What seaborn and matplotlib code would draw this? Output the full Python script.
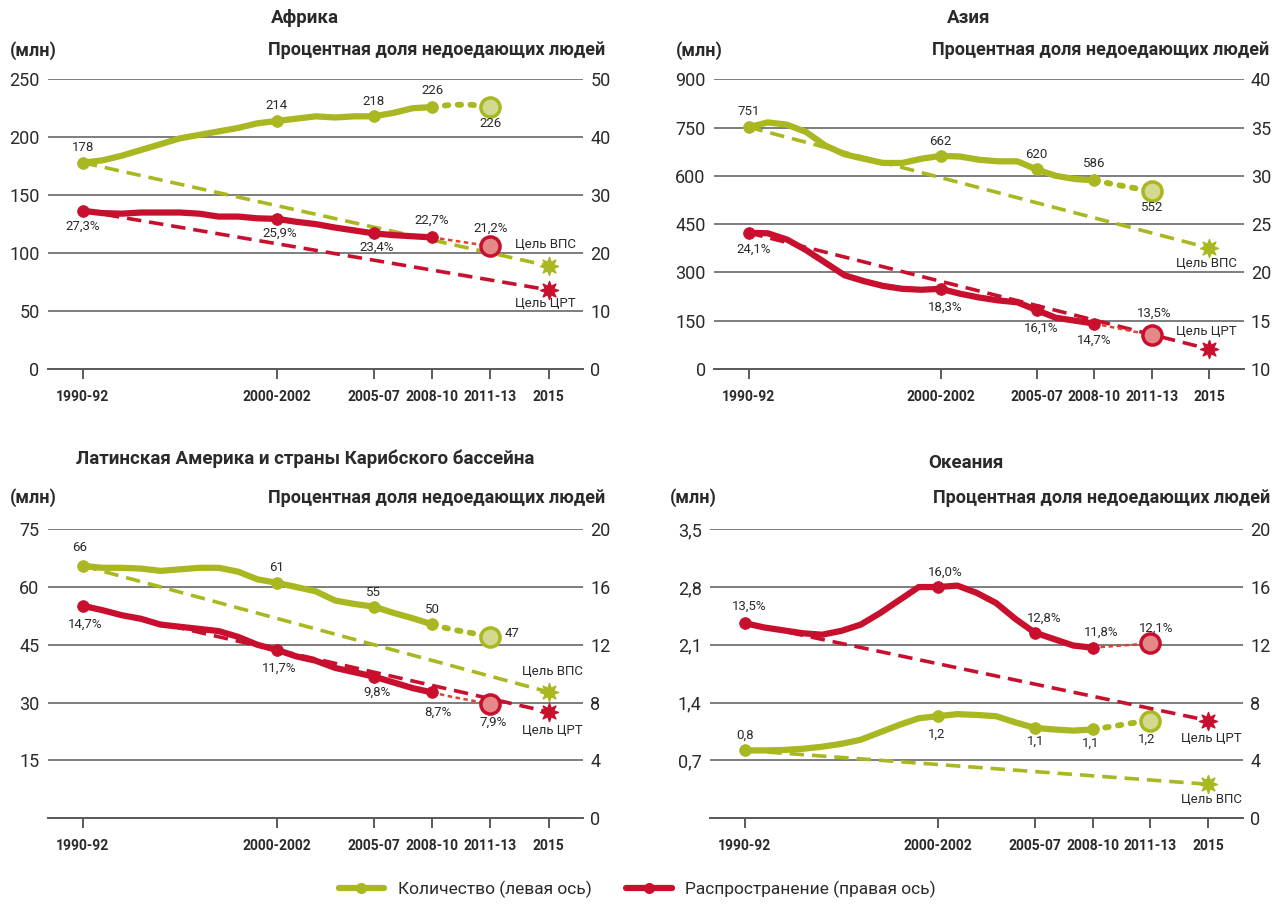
import seaborn as sns
import matplotlib.pyplot as plt
from matplotlib.lines import Line2D

# --- data -------------------------------------------------------------
years = list(range(1991, 2010))
proj_years = [2009, 2010, 2011, 2012]
key_years = [1991, 2001, 2006, 2009]
tick_years = [1991, 2001, 2006, 2009, 2012, 2015]
tick_labels = ['1990-92', '2000-2002', '2005-07', '2008-10', '2011-13', '2015']
goal_years = [1991, 2015]

africa_num = [178, 180, 184, 189, 194, 199, 202, 205, 208, 212, 214, 216, 218, 217, 218, 218, 221, 225, 226]
africa_num_proj = [226, 228, 228, 226]
africa_pct = [27.3, 26.9, 26.8, 27.0, 27.0, 27.0, 26.8, 26.3, 26.3, 26.0, 25.9, 25.4, 25.0, 24.4, 23.9, 23.4, 23.1, 22.9, 22.7]
africa_pct_proj = [22.7, 22.2, 21.7, 21.2]
africa_goal_num = [178, 89]
africa_goal_pct = [27.3, 13.65]
africa_num_lbl = ['178', '214', '218', '226', '226']
africa_pct_lbl = ['27,3%', '25,9%', '23,4%', '22,7%', '21,2%']

asia_num = [751, 766, 759, 736, 694, 667, 653, 640, 640, 653, 662, 660, 650, 645, 645, 620, 600, 590, 586]
asia_num_proj = [586, 574, 563, 552]
asia_pct = [24.1, 24.05, 23.4, 22.3, 21.0, 19.7, 19.1, 18.6, 18.3, 18.2, 18.3, 17.8, 17.4, 17.1, 16.9, 16.1, 15.3, 15.0, 14.7]
asia_pct_proj = [14.7, 14.3, 13.9, 13.5]
asia_goal_num = [751, 375.5]
asia_goal_pct = [24.1, 12.05]
asia_num_lbl = ['751', '662', '620', '586', '552']
asia_pct_lbl = ['24,1%', '18,3%', '16,1%', '14,7%', '13,5%']

latam_num = [65.5, 65.0, 65.0, 64.8, 64.2, 64.6, 65.0, 65.0, 64.0, 62.0, 61.1, 60.0, 58.9, 56.5, 55.6, 54.9, 53.3, 51.9, 50.3]
latam_num_proj = [50.3, 49.0, 48.1, 47.1]
latam_pct = [14.7, 14.4, 14.05, 13.8, 13.4, 13.25, 13.1, 12.95, 12.55, 12.0, 11.65, 11.2, 10.9, 10.4, 10.1, 9.8, 9.4, 9.0, 8.7]
latam_pct_proj = [8.7, 8.4, 8.15, 7.9]
latam_goal_num = [65.5, 32.75]
latam_goal_pct = [14.7, 7.35]
latam_num_lbl = ['66', '61', '55', '50', '47']
latam_pct_lbl = ['14,7%', '11,7%', '9,8%', '8,7%', '7,9%']

oceania_num = [0.82, 0.82, 0.825, 0.84, 0.865, 0.90, 0.95, 1.04, 1.13, 1.21, 1.235, 1.26, 1.25, 1.235, 1.16, 1.094, 1.074, 1.06, 1.074]
oceania_num_proj = [1.074, 1.11, 1.15, 1.18]
oceania_pct = [13.5, 13.2, 13.0, 12.8, 12.7, 12.97, 13.4, 14.2, 15.1, 16.0, 16.0, 16.1, 15.6, 14.9, 13.8, 12.85, 12.4, 11.95, 11.8]
oceania_pct_proj = [11.8, 11.9, 12.0, 12.1]
oceania_goal_num = [0.82, 0.41]
oceania_goal_pct = [13.5, 6.75]
oceania_num_lbl = ['0,8', '1,2', '1,1', '1,1', '1,2']
oceania_pct_lbl = ['13,5%', '16,0%', '12,8%', '11,8%', '12,1%']

GREEN = '#a9b720'
GREEN_PALE = '#d3d98e'
RED = '#c8102e'
RED_PALE = '#e48888'
RED_DOT = '#e0402c'
TXT = '#2a2a2a'

sns.set_style('white')
plt.rcParams['font.family'] = ['Roboto', 'DejaVu Sans']

fig = plt.figure(figsize=(12.75, 9.11), dpi=100)


def draw_panel(rect, title, title_y, hdr_y, hdr_left, hdr_right,
               num, num_proj, pct, pct_proj, goal_num, goal_pct,
               num_lbl, pct_lbl, num_off, pct_off,
               lim_l, ticks_l, labels_l, lim_r, ticks_r,
               vps_off, crt_off):
    ax = fig.add_axes(rect)
    ax2 = ax.twinx()

    # left axis: numbers (green)
    sns.lineplot(x=goal_years, y=goal_num, ax=ax, color=GREEN, linewidth=2.6,
                 linestyle=(0, (4, 2.2)), zorder=3)
    sns.lineplot(x=proj_years, y=num_proj, ax=ax, color=GREEN, linewidth=4.2,
                 linestyle=(0, (0.6, 1.6)), dash_capstyle='round', zorder=4)
    sns.lineplot(x=years, y=num, ax=ax, color=GREEN, linewidth=4.5,
                 solid_capstyle='round', solid_joinstyle='round', zorder=5)
    kv = [num[years.index(y)] for y in key_years]
    sns.scatterplot(x=key_years, y=kv, ax=ax, color=GREEN, s=70,
                    edgecolor=GREEN, zorder=6)
    ax.scatter([2012], [num_proj[-1]], s=190, color=GREEN_PALE,
               edgecolor=GREEN, linewidth=2.5, zorder=6)
    ax.scatter([2015], [goal_num[-1]], s=170, marker=(8, 1, 0),
               color=GREEN, zorder=6)

    # right axis: prevalence (red)
    sns.lineplot(x=goal_years, y=goal_pct, ax=ax2, color=RED, linewidth=2.6,
                 linestyle=(0, (4, 2.2)), zorder=3)
    sns.lineplot(x=proj_years, y=pct_proj, ax=ax2, color=RED_DOT, linewidth=1.8,
                 linestyle=(0, (1.8, 1.4)), zorder=4)
    sns.lineplot(x=years, y=pct, ax=ax2, color=RED, linewidth=4.5,
                 solid_capstyle='round', solid_joinstyle='round', zorder=5)
    kp = [pct[years.index(y)] for y in key_years]
    sns.scatterplot(x=key_years, y=kp, ax=ax2, color=RED, s=70,
                    edgecolor=RED, zorder=6)
    ax2.scatter([2012], [pct_proj[-1]], s=190, color=RED_PALE,
                edgecolor=RED, linewidth=2.5, zorder=6)
    ax2.scatter([2015], [goal_pct[-1]], s=170, marker=(8, 1, 0),
                color=RED, zorder=6)

    # value labels
    xs = key_years + [2012]
    for x, y, t, o in zip(xs, kv + [num_proj[-1]], num_lbl, num_off):
        ax.annotate(t, (x, y), xytext=o, textcoords='offset points',
                    ha='center', va='center', fontsize=9.5, color=TXT, zorder=7)
    for x, y, t, o in zip(xs, kp + [pct_proj[-1]], pct_lbl, pct_off):
        ax2.annotate(t, (x, y), xytext=o, textcoords='offset points',
                     ha='center', va='center', fontsize=9.5, color=TXT, zorder=7)
    ax.annotate('Цель ВПС', (2015, goal_num[-1]), xytext=vps_off,
                textcoords='offset points', ha='center', va='center',
                fontsize=9.5, color=TXT)
    ax2.annotate('Цель ЦРТ', (2015, goal_pct[-1]), xytext=crt_off,
                 textcoords='offset points', ha='center', va='center',
                 fontsize=9.5, color=TXT)

    # axes styling
    ax.set_xlim(1989.2, 2016.8)
    ax.set_ylim(*lim_l)
    ax2.set_ylim(*lim_r)
    ax.set_yticks(ticks_l)
    ax.set_yticklabels(labels_l)
    ax2.set_yticks(ticks_r)
    ax2.set_yticklabels([str(v) for v in ticks_r])
    ax.set_xticks(tick_years)
    ax.set_xticklabels(tick_labels, fontweight='bold', fontsize=10)
    ax.set_xlabel('')
    ax.set_ylabel('')
    ax2.set_ylabel('')
    ax.yaxis.grid(True, color='#5a5a5a', linewidth=1.1)
    ax.set_axisbelow(True)
    ax2.grid(False)
    for s in ['top', 'left', 'right']:
        ax.spines[s].set_visible(False)
    for s in ax2.spines.values():
        s.set_visible(False)
    ax.spines['bottom'].set_color('#5a5a5a')
    ax.spines['bottom'].set_linewidth(1.4)
    ax.tick_params(axis='y', length=0, labelsize=13, colors=TXT, pad=6)
    ax2.tick_params(axis='y', length=0, labelsize=13, colors=TXT, pad=5)
    ax.tick_params(axis='x', length=7, width=1.4, color='#5a5a5a',
                   labelcolor=TXT, pad=8, bottom=True)

    ax.text(0.48, title_y, title, transform=ax.transAxes, ha='center',
            va='center', fontsize=13.5, fontweight='bold', color=TXT)
    ax.text(hdr_left, hdr_y, '(млн)', transform=ax.transAxes, ha='left',
            va='center', fontsize=13, fontweight='bold', color=TXT)
    ax.text(hdr_right, hdr_y, 'Процентная доля недоедающих людей',
            transform=ax.transAxes, ha='right', va='center', fontsize=13,
            fontweight='bold', color=TXT)
    return ax


draw_panel([0.0376, 0.595, 0.42, 0.318], 'Африка', 1.21, 1.10, -0.072, 1.041,
           africa_num, africa_num_proj, africa_pct, africa_pct_proj,
           africa_goal_num, africa_goal_pct, africa_num_lbl, africa_pct_lbl,
           [(0, 11), (0, 11), (0, 11), (0, 12), (0, -12)],
           [(0, -11), (2, -10), (2, -10), (0, 12), (0, 13)],
           (0, 250), [0, 50, 100, 150, 200, 250],
           ['0', '50', '100', '150', '200', '250'],
           (0, 50), [0, 10, 20, 30, 40, 50],
           (-2, 15), (-2, -10))

draw_panel([0.56, 0.595, 0.4157, 0.318], 'Азия', 1.21, 1.10, -0.072, 1.047,
           asia_num, asia_num_proj, asia_pct, asia_pct_proj,
           asia_goal_num, asia_goal_pct, asia_num_lbl, asia_pct_lbl,
           [(0, 11), (0, 10), (0, 11), (0, 12), (0, -12)],
           [(4, -12), (3, -13), (3, -13), (0, -12), (2, 16)],
           (0, 900), [0, 150, 300, 450, 600, 750, 900],
           ['0', '150', '300', '450', '600', '750', '900'],
           (10, 40), [10, 15, 20, 25, 30, 35, 40],
           (-2, -11), (-2, 13))

draw_panel([0.0376, 0.102, 0.42, 0.317],
           'Латинская Америка и страны Карибского бассейна', 1.245, 1.11,
           -0.072, 1.041,
           latam_num, latam_num_proj, latam_pct, latam_pct_proj,
           latam_goal_num, latam_goal_pct, latam_num_lbl, latam_pct_lbl,
           [(-2, 13), (0, 11), (0, 10), (0, 11), (16, 2)],
           [(2, -13), (2, -13), (2, -11), (4, -14), (2, -13)],
           (0, 75), [0, 15, 30, 45, 60, 75],
           ['', '15', '30', '45', '60', '75'],
           (0, 20), [0, 4, 8, 12, 16, 20],
           (3, 15), (3, -13))

draw_panel([0.557, 0.102, 0.418, 0.317], 'Океания', 1.23, 1.11, -0.075, 1.05,
           oceania_num, oceania_num_proj, oceania_pct, oceania_pct_proj,
           oceania_goal_num, oceania_goal_pct, oceania_num_lbl, oceania_pct_lbl,
           [(0, 11), (-1, -13), (1, -10), (-1, -10), (-3, -13)],
           [(3, 12), (5, 11), (7, 10), (6, 11), (4, 11)],
           (0, 3.5), [0, 0.7, 1.4, 2.1, 2.8, 3.5],
           ['', '0,7', '1,4', '2,1', '2,8', '3,5'],
           (0, 20), [0, 4, 8, 12, 16, 20],
           (2, -11), (2, -13))

handles = [
    Line2D([0], [0], color=GREEN, linewidth=4.5, marker='o', markersize=7),
    Line2D([0], [0], color=RED, linewidth=4.5, marker='o', markersize=7),
]
fig.legend(handles, ['Количество (левая ось)', 'Распространение (правая ось)'],
           loc='lower center', bbox_to_anchor=(0.5, -0.003), ncol=2,
           frameon=False, fontsize=12.5, handlelength=2.6, columnspacing=2.0,
           labelcolor=TXT)

fig.savefig('out.png', dpi=100)
